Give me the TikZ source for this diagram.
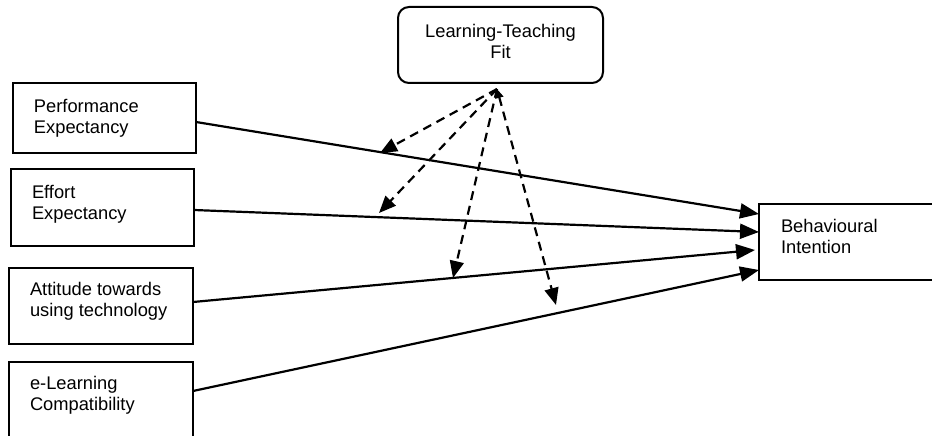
\documentclass[tikz,border=0pt]{standalone}
\usepackage{fontspec}
\setmainfont{Liberation Sans}
\usetikzlibrary{arrows.meta}
\begin{document}
\begin{tikzpicture}[x=1pt,y=-1pt,
  box/.style={draw=black, line width=2pt, inner sep=0pt, outer sep=0pt, anchor=north west},
  txt/.style={inner sep=0pt, outer sep=0pt, align=left, anchor=north west, font=\fontsize{18.3}{21}\selectfont},
  solidarrow/.style={line width=2.2pt, -{Triangle[length=19pt,width=15pt]}},
  dasharrow/.style={line width=2.2pt, dash pattern=on 9pt off 6pt, -{Triangle[length=17pt,width=14pt]}}]
\useasboundingbox (0,0) rectangle (932,436);
\begin{scope}
\clip (0,0) rectangle (932,436);
% left boxes
\node[box, minimum width=183pt, minimum height=70pt] (pe) at (13,83) {};
\node[box, minimum width=183pt, minimum height=77pt] (ee) at (11,169) {};
\node[box, minimum width=184pt, minimum height=76pt] (at) at (9,268) {};
\node[box, minimum width=184pt, minimum height=90pt] (el) at (9,362) {};
% right box
\node[box, minimum width=190pt, minimum height=76pt] (bi) at (759,204) {};
% top box
\node[box, rounded corners=11pt, minimum width=205pt, minimum height=76pt] (ltf) at (398,7) {};
\end{scope}
% texts
\node[txt] (pet) at (34,99) {Performance\\Expectancy};
\node[txt] (eet) at (32,185) {Effort\\Expectancy};
\node[txt] (att) at (30,282) {Attitude towards\\using technology};
\node[txt] (elt) at (30,376) {e-Learning\\Compatibility};
\node[txt] (bit) at (781,219) {Behavioural\\Intention};
\node[txt, align=center, anchor=north] (ltft) at (500.5,24) {Learning-Teaching\\Fit};
% connector end points
\coordinate (b1) at (759,214);
\coordinate (b2) at (759,232);
\coordinate (b3) at (755,250);
\coordinate (b4) at (759,270);
\coordinate (o) at (497,89);
\coordinate (d1) at (380,153);
\coordinate (d2) at (379,213);
\coordinate (d3) at (453,278);
\coordinate (d4) at (556,305);
% solid arrows
\draw[solidarrow] (pe.east |- 0,122) -- (b1);
\draw[solidarrow] (ee.east |- 0,210) -- (b2);
\draw[solidarrow] (at.east |- 0,302) -- (b3);
\draw[solidarrow] (el.east |- 0,391) -- (b4);
% dashed arrows
\draw[dasharrow] (o) -- (d1);
\draw[dasharrow] (o) -- (d2);
\draw[dasharrow] (o) -- (d3);
\draw[dasharrow, {Triangle[length=9pt,width=8pt]}-{Triangle[length=17pt,width=14pt]}] (o) -- (d4);
\end{tikzpicture}
\end{document}
